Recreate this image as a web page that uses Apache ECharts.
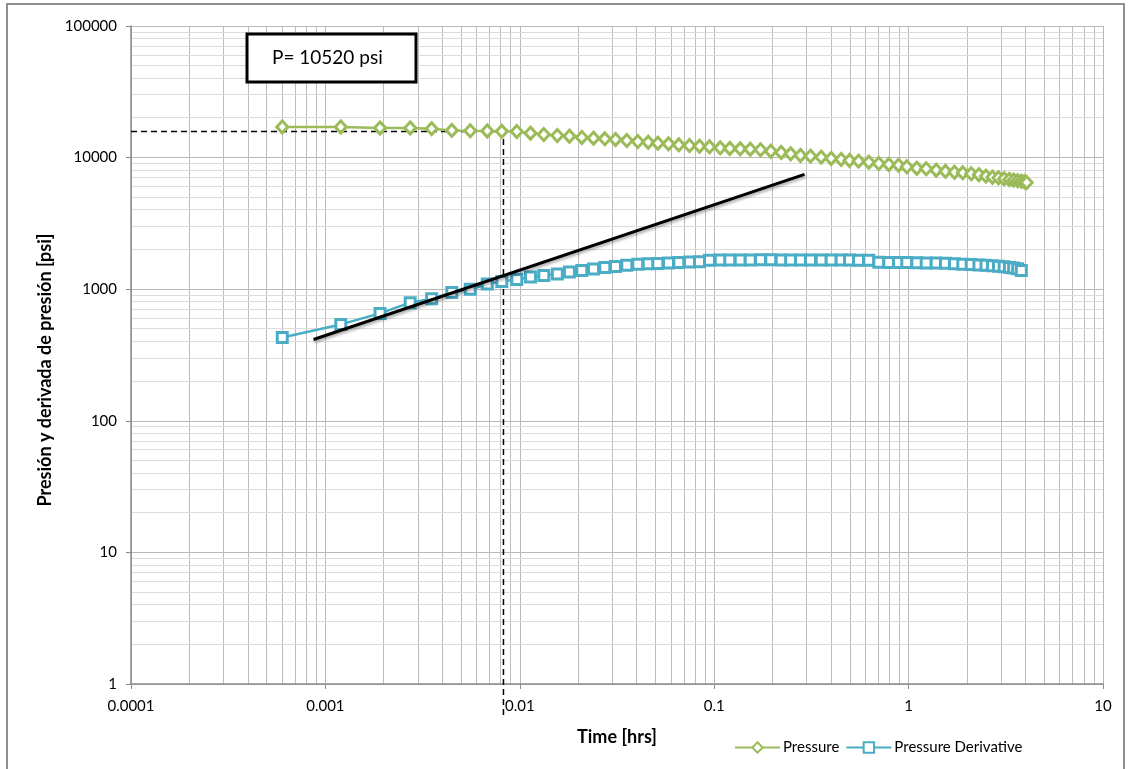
<!DOCTYPE html>
<html>
<head>
<meta charset="utf-8">
<title>Presión y derivada de presión</title>
<script src="https://cdn.jsdelivr.net/npm/echarts@6/dist/echarts.min.js"></script>
<style>
  html, body { margin: 0; padding: 0; background: #ffffff; }
  #chart { width: 1131px; height: 769px; }
</style>
</head>
<body>
<div id="chart"></div>
<script>
// Elapsed time of each sample [hrs]
const times = [
  0.0006, 0.0012, 0.00191, 0.00273, 0.00352, 0.00447, 0.00556, 0.0068, 0.00808, 0.00965,
  0.01135, 0.01329, 0.0156, 0.018, 0.02085, 0.02394, 0.02737, 0.03107, 0.03552, 0.04047,
  0.04576, 0.05129, 0.05821, 0.06575, 0.07464, 0.08402, 0.0946, 0.1074, 0.1203, 0.1361,
  0.1532, 0.1731, 0.1955, 0.2211, 0.2474, 0.2779, 0.313, 0.3552, 0.3997, 0.45,
  0.4967, 0.5526, 0.6242, 0.7027, 0.7908, 0.8873, 0.9789, 1.102, 1.232, 1.387,
  1.548, 1.722, 1.9, 2.1, 2.3, 2.5, 2.7, 2.9, 3.1, 3.3,
  3.47, 3.64, 3.8, 3.94, 4.05
];

// Pressure [psi]
const pressure = [
  17100, 17100, 16800, 16800, 16600, 16100, 16000, 15950, 15850, 15790,
  15330, 14980, 14720, 14550, 14220, 14040, 13900, 13730, 13490, 13250,
  13090, 12870, 12730, 12510, 12360, 12210, 12080, 11870, 11730, 11670,
  11590, 11470, 11190, 10940, 10690, 10380, 10260, 10080, 9850, 9680,
  9510, 9400, 9230, 9020, 8870, 8760, 8520, 8310, 8230, 8020,
  7870, 7740, 7660, 7540, 7410, 7230, 7100, 7030, 6910, 6820,
  6740, 6680, 6610, 6550, 6470
];

// Pressure derivative [psi], one value per time sample (the last samples have none)
const derivative = [
  430, 540, 655, 790, 845, 945, 1000, 1095, 1145, 1185,
  1240, 1270, 1305, 1350, 1385, 1425, 1460, 1490, 1520, 1545,
  1560, 1570, 1580, 1595, 1610, 1620, 1660, 1665, 1668, 1670,
  1670, 1672, 1672, 1670, 1670, 1670, 1668, 1668, 1668, 1665,
  1665, 1662, 1660, 1600, 1598, 1595, 1592, 1590, 1585, 1580,
  1575, 1560, 1550, 1540, 1530, 1520, 1505, 1495, 1480, 1465,
  1450, 1430, 1390
];

// Half-slope straight line drawn over the early derivative
const trendTimes = [0.000869, 0.2914];
const trendValues = [415, 7450];

// Reference point marked with dashed guides
const refTime = 0.00824;
const refPressure = 15800;
const refGuideBottom = 0.58;

const xTickLabels = ['0.0001', '0.001', '0.01', '0.1', '1', '10'];
const yTickLabels = ['1', '10', '100', '1000', '10000', '100000'];
const boxText = 'P= 10520 psi';

const FONT = 'Lato, "Open Sans", sans-serif';
const X_MIN = 0.0001, X_MAX = 10, Y_MIN = 1, Y_MAX = 100000;

// Intermediate grid lines at 2..9 of each decade
const minorX = [];
for (let e = -4; e < 1; e++) for (let d = 2; d <= 9; d++) minorX.push([d * Math.pow(10, e), Y_MIN]);
const minorY = [];
for (let e = 0; e < 5; e++) for (let d = 2; d <= 9; d++) minorY.push([X_MIN, d * Math.pow(10, e)]);

function crisp(v) { return Math.round(v - 0.5) + 0.5; }

const chart = echarts.init(document.getElementById('chart'), null, { renderer: 'canvas' });

chart.setOption({
  animation: false,
  backgroundColor: '#ffffff',
  grid: { left: 131, top: 26, width: 972, height: 658, containLabel: false },
  legend: {
    data: ['Pressure', 'Pressure Derivative'],
    left: 729,
    top: 735,
    itemWidth: 45,
    itemHeight: 13,
    itemGap: 6,
    textStyle: { fontFamily: FONT, fontSize: 15, color: '#000', padding: [0, 0, 0, -2] }
  },
  xAxis: {
    type: 'log',
    logBase: 10,
    min: X_MIN,
    max: X_MAX,
    name: 'Time [hrs]',
    nameLocation: 'middle',
    nameGap: 44,
    nameTextStyle: { fontFamily: FONT, fontSize: 18, fontWeight: 'bold', color: '#000' },
    axisLine: { show: true, lineStyle: { color: '#8a8a8a', width: 1.5 } },
    axisTick: { show: true, length: 5, lineStyle: { color: '#8a8a8a' } },
    axisLabel: {
      fontFamily: FONT, fontSize: 15, color: '#000', margin: 15,
      showMinLabel: true, showMaxLabel: true,
      formatter: v => xTickLabels[Math.round(Math.log10(v)) + 4]
    },
    splitLine: { show: true, lineStyle: { color: '#b8b8b8', width: 1 } }
  },
  yAxis: {
    type: 'log',
    logBase: 10,
    min: Y_MIN,
    max: Y_MAX,
    name: 'Presión y derivada de presión [psi]',
    nameLocation: 'middle',
    nameGap: 76,
    nameTextStyle: {
      fontFamily: FONT, fontSize: 18, fontWeight: 'bold', color: '#000',
      padding: [0, 30, 0, 0]
    },
    axisLine: { show: true, lineStyle: { color: '#8a8a8a', width: 1.5 } },
    axisTick: { show: true, length: 5, lineStyle: { color: '#8a8a8a' } },
    axisLabel: {
      fontFamily: FONT, fontSize: 15, color: '#000', margin: 14,
      showMinLabel: true, showMaxLabel: true,
      formatter: v => yTickLabels[Math.round(Math.log10(v))]
    },
    splitLine: { show: true, lineStyle: { color: '#b8b8b8', width: 1 } }
  },
  series: [
    {
      name: 'minor-x',
      type: 'custom',
      silent: true,
      z: 0,
      data: minorX,
      renderItem: (params, api) => {
        const a = api.coord([api.value(0), Y_MIN]);
        const b = api.coord([api.value(0), Y_MAX]);
        const x = crisp(a[0]);
        return { type: 'line', shape: { x1: x, y1: a[1], x2: x, y2: b[1] },
                 style: { stroke: '#bdbdbd', lineWidth: 1 } };
      }
    },
    {
      name: 'minor-y',
      type: 'custom',
      silent: true,
      z: 0,
      data: minorY,
      renderItem: (params, api) => {
        const a = api.coord([X_MIN, api.value(1)]);
        const b = api.coord([X_MAX, api.value(1)]);
        const y = crisp(a[1]);
        return { type: 'line', shape: { x1: a[0], y1: y, x2: b[0], y2: y },
                 style: { stroke: '#dcdcdc', lineWidth: 1 } };
      }
    },
    {
      name: 'Pressure',
      type: 'line',
      z: 5,
      data: times.map((t, i) => [t, pressure[i]]),
      symbol: 'diamond',
      symbolSize: [11, 12],
      showAllSymbol: true,
      itemStyle: { color: '#ffffff', borderColor: '#9bbb59', borderWidth: 3 },
      lineStyle: { color: '#9bbb59', width: 2.5 }
    },
    {
      name: 'Pressure Derivative',
      type: 'line',
      z: 5,
      data: derivative.map((d, i) => [times[i], d]),
      symbol: 'rect',
      symbolSize: 10,
      showAllSymbol: true,
      itemStyle: { color: '#ffffff', borderColor: '#4bacc6', borderWidth: 3 },
      lineStyle: { color: '#4bacc6', width: 2.5 }
    },
    {
      name: 'trend',
      type: 'line',
      z: 6,
      silent: true,
      symbol: 'none',
      data: trendTimes.map((t, i) => [t, trendValues[i]]),
      lineStyle: {
        color: '#000', width: 3,
        shadowColor: 'rgba(0,0,0,0.35)', shadowBlur: 3, shadowOffsetX: 1, shadowOffsetY: 2
      }
    },
    {
      name: 'guides',
      type: 'line',
      z: 3,
      silent: true,
      clip: false,
      symbol: 'none',
      data: [[X_MIN, refPressure], [refTime, refPressure], [refTime, refGuideBottom]],
      lineStyle: { color: '#000', width: 1.5, type: [6, 4] }
    }
  ],
  graphic: [
    {
      type: 'rect',
      silent: true,
      z: 100,
      shape: { x: 7, y: 4, width: 1117, height: 780 },
      style: { fill: 'none', stroke: '#8f8f8f', lineWidth: 2 }
    },
    {
      type: 'rect',
      silent: true,
      z: 100,
      shape: { x: 247, y: 34, width: 169, height: 48 },
      style: { fill: '#ffffff', stroke: '#000000', lineWidth: 3 }
    },
    {
      type: 'text',
      silent: true,
      z: 101,
      x: 272,
      y: 58,
      style: { text: boxText, font: '19px ' + FONT, fill: '#000', verticalAlign: 'middle', align: 'left' }
    }
  ]
});
</script>
</body>
</html>
